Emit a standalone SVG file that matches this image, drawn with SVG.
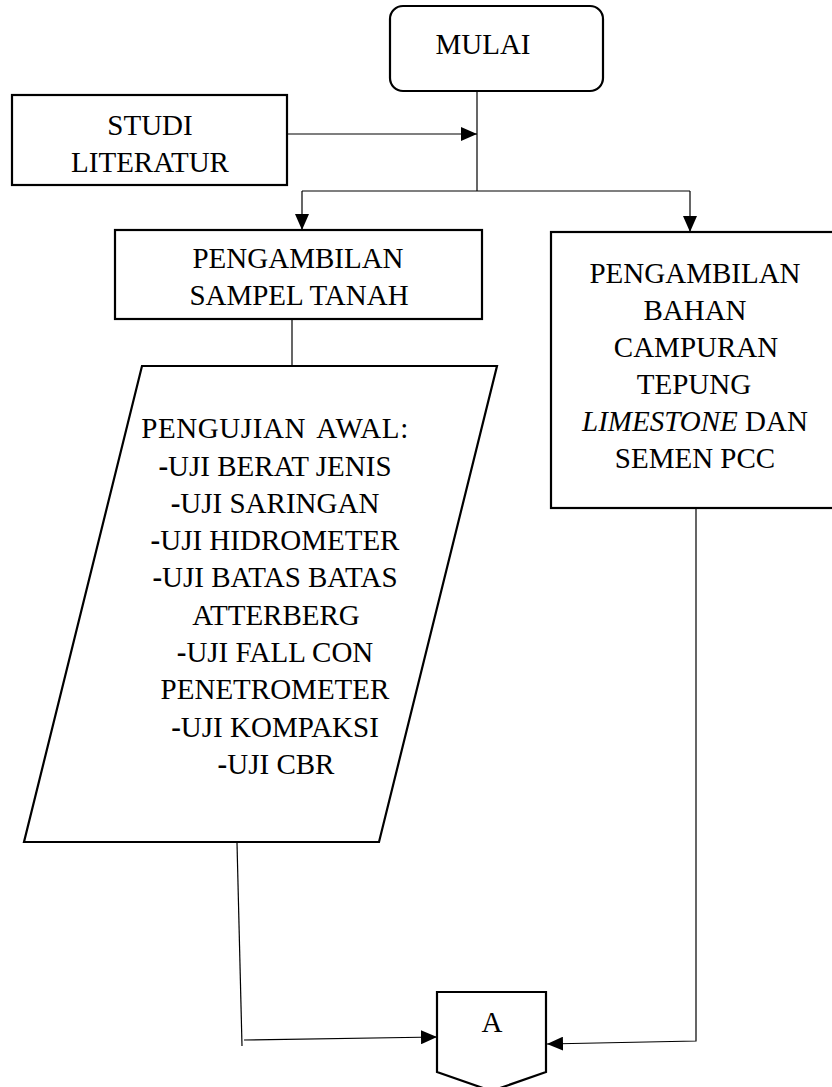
<svg xmlns="http://www.w3.org/2000/svg" width="832" height="1087" viewBox="0 0 832 1087">
<style>
.box{fill:#fff;stroke:#000;stroke-width:2.2}
.con{fill:none;stroke:#000;stroke-width:1.2}
text{font-size:29px;fill:#000;text-anchor:middle}
.d{font-weight:bold}
</style>
<defs>
<marker id="ah" markerWidth="16" markerHeight="14" refX="16" refY="7" orient="auto" markerUnits="userSpaceOnUse"><path d="M0,0 L16,7 L0,14 Z" fill="#000"/></marker>
</defs>
<rect width="832" height="1087" fill="#fff"/>
<g id="connectors">
<path class="con" d="M287,134 H477" marker-end="url(#ah)"/>
<path class="con" d="M477,91 V191"/>
<path class="con" d="M302,191 H690"/>
<path class="con" d="M302,191 V230" marker-end="url(#ah)"/>
<path class="con" d="M690,191 V232" marker-end="url(#ah)"/>
<path class="con" d="M292,319 V366"/>
<path class="con" d="M237,843 L242,1046"/>
<path class="con" d="M244,1040 L437,1037" marker-end="url(#ah)"/>
<path class="con" d="M696,508 V1041 L547,1044" marker-end="url(#ah)"/>
</g>
<g font-family="Liberation Serif, Times New Roman, serif">
<g id="mulai">
<rect class="box" x="390" y="6" width="213" height="85" rx="13"/>
<text x="483" y="54">MULAI</text>
</g>
<g id="studi">
<rect class="box" x="12" y="95" width="275" height="90"/>
<text x="150" y="135">STUDI</text>
<text x="150" y="172">LITERATUR</text>
</g>
<g id="sampel">
<rect class="box" x="115" y="230" width="367" height="89"/>
<text x="298" y="268">PENGAMBILAN</text>
<text x="299" y="305">SAMPEL TANAH</text>
</g>
<g id="bahan">
<rect class="box" x="551" y="232" width="290" height="276"/>
<text x="695" y="283">PENGAMBILAN</text>
<text x="695" y="320">BAHAN</text>
<text x="696" y="357">CAMPURAN</text>
<text x="694" y="394">TEPUNG</text>
<text x="695" y="431"><tspan font-style="italic">LIMESTONE</tspan> DAN</text>
<text x="695" y="468">SEMEN PCC</text>
</g>
<g id="pengujian">
<polygon class="box" points="142,366 497,366 379,842 24,842" stroke-width="2.6"/>
<text x="275" y="438" word-spacing="4" letter-spacing="0.6">PENGUJIAN AWAL:</text>
<text x="275" y="476"><tspan class="d">-</tspan>UJI BERAT JENIS</text>
<text x="275" y="513"><tspan class="d">-</tspan>UJI SARINGAN</text>
<text x="275" y="550"><tspan class="d">-</tspan>UJI HIDROMETER</text>
<text x="275" y="587"><tspan class="d">-</tspan>UJI BATAS BATAS</text>
<text x="276" y="625">ATTERBERG</text>
<text x="275" y="662"><tspan class="d">-</tspan>UJI FALL CON</text>
<text x="275" y="699">PENETROMETER</text>
<text x="275" y="737"><tspan class="d">-</tspan>UJI KOMPAKSI</text>
<text x="276" y="774"><tspan class="d">-</tspan>UJI CBR</text>
</g>
<g id="connectorA">
<polygon class="box" points="437,992 546,992 546,1072 491.5,1091 437,1072"/>
<text x="492" y="1032">A</text>
</g>
</g>
</svg>
